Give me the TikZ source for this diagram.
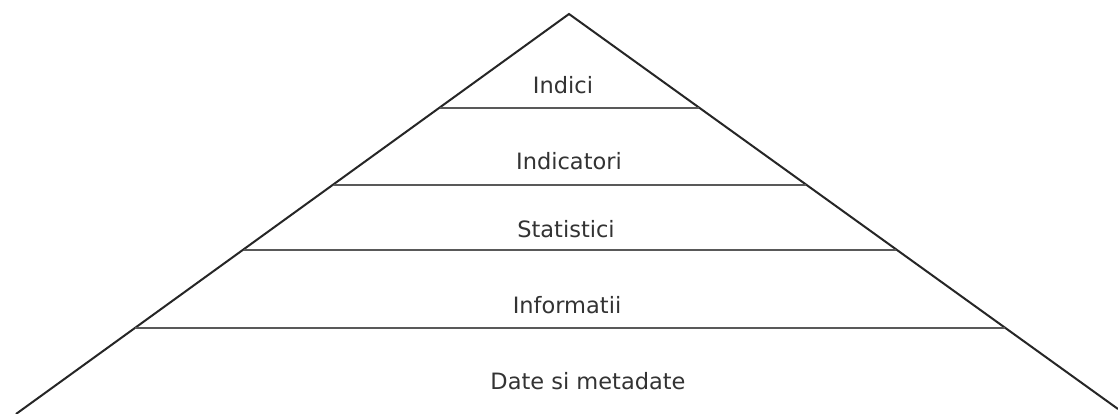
\documentclass[tikz,border=0pt]{standalone}
\usepackage{fontspec}
\setmainfont{DejaVu Sans}
\begin{document}
\begin{tikzpicture}[x=1pt,y=-1pt,
  edge/.style={draw=black!85,line width=2pt},
  level/.style={draw=black!65,line width=2.2pt},
  lbl/.style={font=\fontsize{22.5}{26}\selectfont,text=black!80,inner sep=0pt,anchor=base}]
  \useasboundingbox[fill=white] (0,0) rectangle (1118,414);
  % pyramid outline
  \coordinate (apex) at (569,14);
  \coordinate (bl) at (16,414);
  \coordinate (br) at (1118,409);
  \draw[edge,line join=miter] (bl) -- (apex) -- (br);
  % level separators
  \coordinate (l1a) at (440,108); \coordinate (l1b) at (699,108);
  \coordinate (l2a) at (334,185); \coordinate (l2b) at (806,185);
  \coordinate (l3a) at (244,250); \coordinate (l3b) at (896,250);
  \coordinate (l4a) at (135,328); \coordinate (l4b) at (1005,328);
  \draw[level] (l1a) -- (l1b);
  \draw[level] (l2a) -- (l2b);
  \draw[level] (l3a) -- (l3b);
  \draw[level] (l4a) -- (l4b);
  % level labels
  \node[lbl] (t1) at (563,94) {Indici};
  \node[lbl] (t2) at (569,170) {Indicatori};
  \node[lbl] (t3) at (566,237) {Statistici};
  \node[lbl] (t4) at (567,313) {Informatii};
  \node[lbl] (t5) at (588,389) {Date si metadate};
\end{tikzpicture}
\end{document}
